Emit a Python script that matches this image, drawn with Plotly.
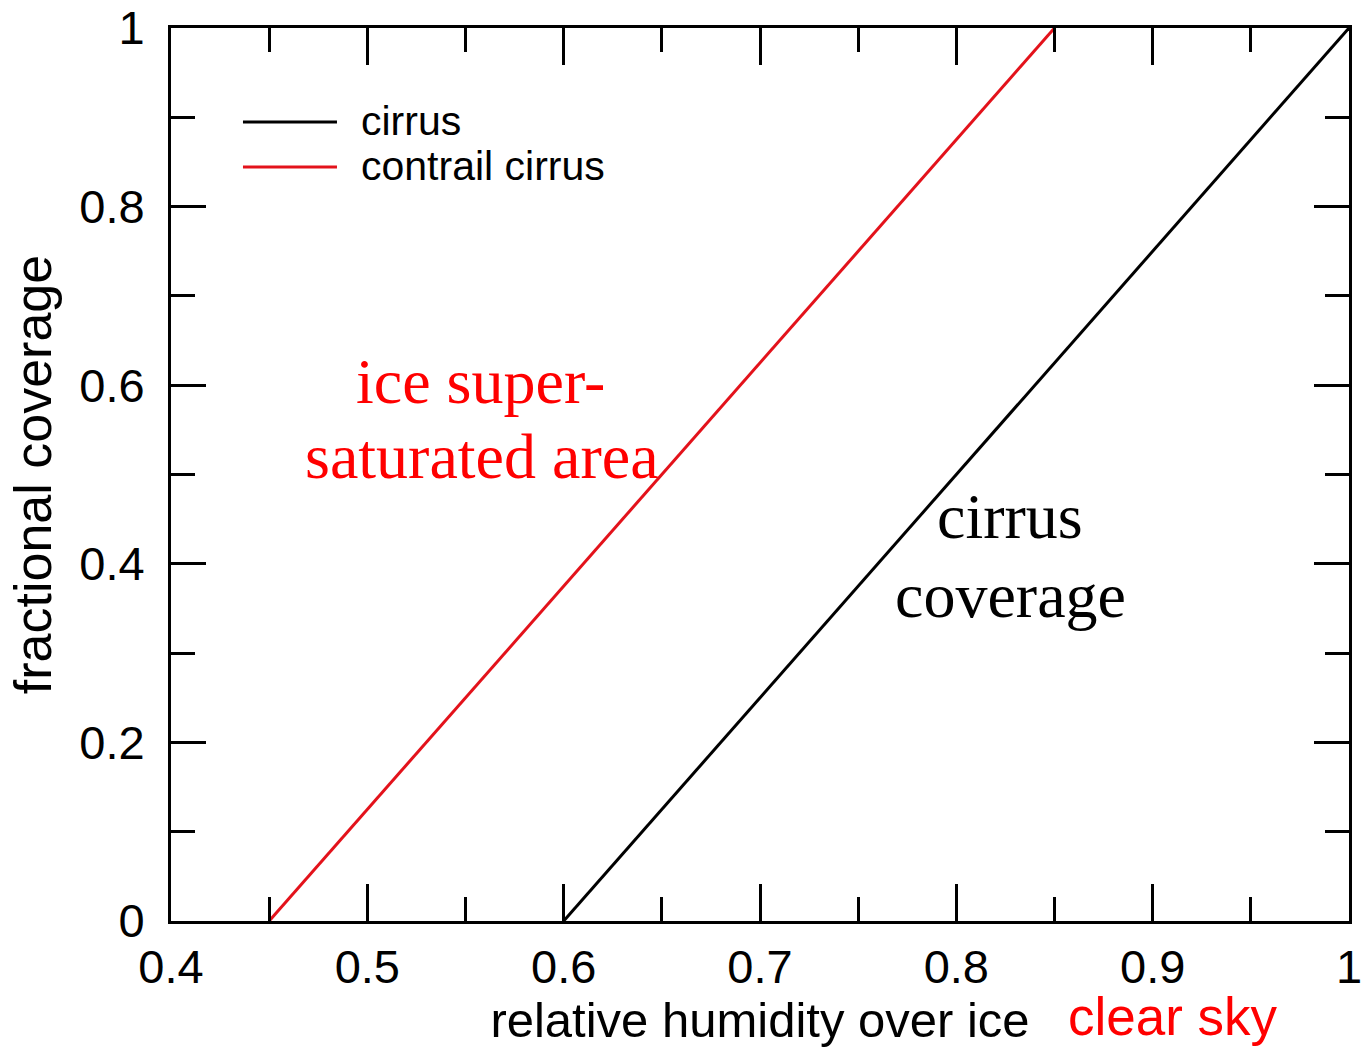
import plotly.graph_objects as go

# Fractional coverage vs relative humidity over ice
series_names = ["cirrus", "contrail cirrus"]
series_colors = ["black", "#e3121b"]
cirrus_rhi = [0.6, 1.0]
cirrus_cov = [0.0, 1.0]
contrail_rhi = [0.45, 0.85]
contrail_cov = [0.0, 1.0]

x_ticks = [0.4, 0.5, 0.6, 0.7, 0.8, 0.9, 1.0]
x_tick_labels = ["0.4", "0.5", "0.6", "0.7", "0.8", "0.9", "1"]
y_ticks = [0, 0.2, 0.4, 0.6, 0.8, 1.0]
y_tick_labels = ["0", "0.2", "0.4", "0.6", "0.8", "1"]

SANS = "Liberation Sans, Arial, sans-serif"
SERIF = "Liberation Serif, Times New Roman, serif"

fig = go.Figure()
for xs, ys, name, col in [
    (cirrus_rhi, cirrus_cov, series_names[0], series_colors[0]),
    (contrail_rhi, contrail_cov, series_names[1], series_colors[1]),
]:
    fig.add_trace(go.Scatter(x=xs, y=ys, mode="lines", name=name,
                             line=dict(color=col, width=3), showlegend=False))

axis_common = dict(
    showgrid=False, zeroline=False, showline=True, linecolor="black", linewidth=3,
    mirror="ticks", ticks="inside", tickwidth=3, tickcolor="black", automargin=False,
    tickfont=dict(family=SANS, size=47, color="black"),
)

fig.update_xaxes(
    range=[0.4, 1.0], tickvals=x_ticks, ticktext=x_tick_labels, ticklen=37,
    ticklabelstandoff=3,
    minor=dict(ticks="inside", dtick=0.05, ticklen=24, tickwidth=3, tickcolor="black"),
    title=dict(text="relative humidity over ice", font=dict(family=SANS, size=49, color="black"),
               standoff=5),
    **axis_common,
)
fig.update_yaxes(
    range=[0, 1.0], tickvals=y_ticks, ticktext=y_tick_labels, ticklen=35,
    ticklabelstandoff=14,
    minor=dict(ticks="inside", dtick=0.1, ticklen=24, tickwidth=3, tickcolor="black"),
    title=dict(text="fractional coverage", font=dict(family=SANS, size=52, color="black"),
               standoff=12),
    **axis_common,
)

# Hand-drawn legend in the upper-left corner
legend_y = [0.8947, 0.8443]
for name, col, ly in zip(series_names, series_colors, legend_y):
    fig.add_shape(type="line", xref="paper", yref="paper", x0=0.0611, x1=0.1409, y0=ly, y1=ly,
                  line=dict(color=col, width=3))
    fig.add_annotation(xref="paper", yref="paper", x=0.1596, y=ly + 0.0016, text=name,
                       showarrow=False, xanchor="left", yanchor="middle",
                       font=dict(family=SANS, size=41, color="black"))

# Region labels, one annotation per line
region_lines = [
    ("ice super-", 0.5574, 0.6047, "red"),
    ("saturated area", 0.5582, 0.5207, "red"),
    ("cirrus", 0.8274, 0.4535, "black"),
    ("coverage", 0.8274, 0.3640, "black"),
]
for txt, lx, ly, col in region_lines:
    fig.add_annotation(x=lx, y=ly, text=txt, showarrow=False, xanchor="center",
                       yanchor="middle", font=dict(family=SERIF, size=64, color=col))

fig.add_annotation(xref="paper", yref="paper", x=0.8506, y=-0.1075, text="clear sky",
                   showarrow=False, xanchor="center", yanchor="middle",
                   font=dict(family=SANS, size=53, color="red"))

fig.update_layout(
    width=1365, height=1048,
    margin=dict(l=171, r=16, t=28, b=127),
    plot_bgcolor="white", paper_bgcolor="white",
)

fig.write_html("out.html")
